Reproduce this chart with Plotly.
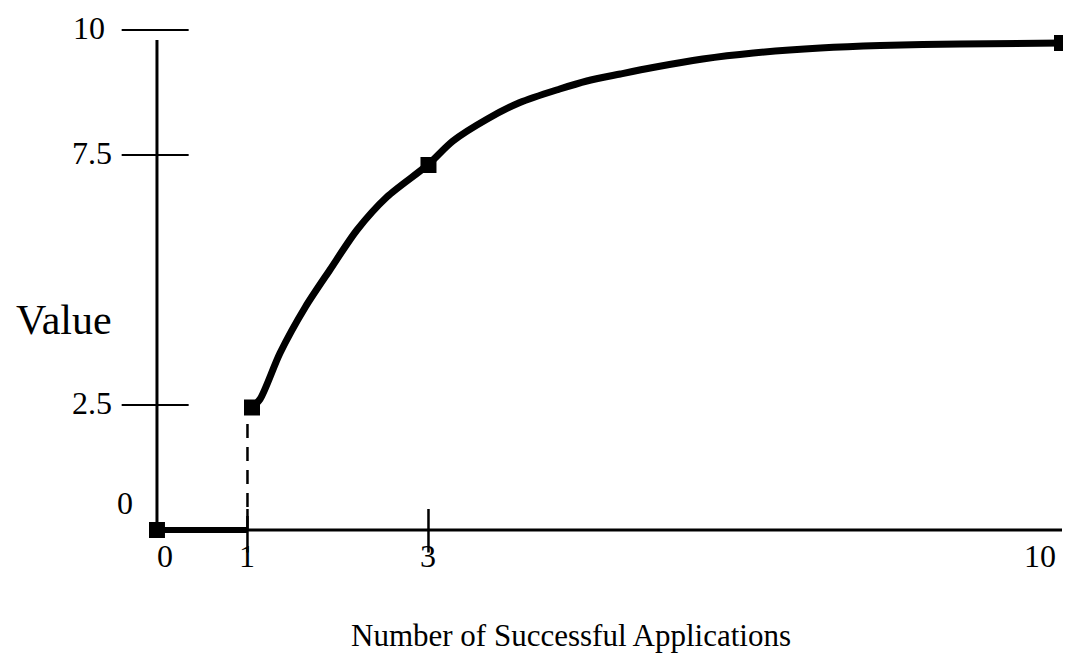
import plotly.graph_objects as go

# values
curve_x = [1.05, 1.14, 1.36, 1.64, 1.91, 2.21, 2.54, 2.99, 3.27, 3.65, 4.01,
           4.45, 4.75, 5.12, 5.48, 6.03, 6.59, 7.33, 7.99, 8.87, 10.0]
curve_y = [2.45, 2.62, 3.54, 4.46, 5.2, 6.0, 6.66, 7.3, 7.78, 8.22, 8.55,
           8.82, 8.98, 9.12, 9.25, 9.42, 9.54, 9.64, 9.69, 9.72, 9.74]
point_x = [0, 1.05, 3, 10]
point_y = [0, 2.45, 7.3, 9.74]
base_x = [0, 1]
base_y = [0, 0]
x_ticks = [0, 1, 3, 10]
y_ticks = [0, 2.5, 7.5, 10]

INK = "#000000"
FONT = "Liberation Serif, Times New Roman, serif"

fig = go.Figure()

# x axis line and thick zero segment
fig.add_trace(go.Scatter(x=[0, 10], y=[0, 0], mode="lines",
                         line=dict(color=INK, width=3), hoverinfo="skip"))
fig.add_trace(go.Scatter(x=base_x, y=base_y, mode="lines",
                         line=dict(color=INK, width=6), hoverinfo="skip"))

# dashed drop line at x=1
fig.add_trace(go.Scatter(x=[1, 1], y=[0, point_y[1]], mode="lines",
                         line=dict(color=INK, width=2.5, dash="14px,9px"),
                         hoverinfo="skip"))

# main curve
fig.add_trace(go.Scatter(x=curve_x, y=curve_y, mode="lines",
                         line=dict(color=INK, width=7, shape="spline", smoothing=0.8),
                         hoverinfo="skip", cliponaxis=False))

# square markers
fig.add_trace(go.Scatter(x=point_x, y=point_y, mode="markers",
                         marker=dict(symbol="square", size=16, color=INK),
                         hoverinfo="skip", cliponaxis=False))

# y axis line
fig.add_shape(type="line", x0=0, x1=0, y0=0, y1=9.8,
              line=dict(color=INK, width=3))

# y tick marks (crossing the axis)
for v in y_ticks[1:]:
    fig.add_shape(type="line", x0=-0.39, x1=0.35, y0=v, y1=v,
                  line=dict(color=INK, width=2))

# x tick marks
for v in x_ticks[1:3]:
    fig.add_shape(type="line", x0=v, x1=v, y0=0.42, y1=-0.45,
                  line=dict(color=INK, width=2.5))

# y tick labels
for v in y_ticks:
    if v == 0:
        fig.add_annotation(x=-0.35, y=0.54, text="0", showarrow=False,
                           xanchor="center", yanchor="middle",
                           font=dict(size=32, color=INK, family=FONT))
    else:
        fig.add_annotation(x=-0.55 if v == 10 else -0.47, y=v + 0.04,
                           text=f"{v:g}", showarrow=False,
                           xanchor="right", yanchor="middle",
                           font=dict(size=32, color=INK, family=FONT))

# x tick labels
x_label_off = {0: 0.09, 1: 0.0, 3: 0.0, 10: -0.24}
for v in x_ticks:
    fig.add_annotation(x=v + x_label_off[v], y=-0.52, text=f"{v:g}", showarrow=False,
                       xanchor="center", yanchor="middle",
                       font=dict(size=32, color=INK, family=FONT))

# axis titles
fig.add_annotation(x=-1.03, y=4.2, text="Value", showarrow=False,
                   xanchor="center", yanchor="middle",
                   font=dict(size=42, color=INK, family=FONT))
fig.add_annotation(x=4.58, y=-2.1, text="Number of Successful Applications",
                   showarrow=False, xanchor="center", yanchor="middle",
                   font=dict(size=31, color=INK, family=FONT))

fig.update_layout(
    width=1055, height=648,
    margin=dict(l=0, r=0, t=0, b=0),
    paper_bgcolor="white", plot_bgcolor="white",
    showlegend=False,
    xaxis=dict(range=[-1.646, 10.011], visible=False, fixedrange=True),
    yaxis=dict(range=[-2.52, 10.44], visible=False, fixedrange=True),
)

fig.write_html("out.html")
